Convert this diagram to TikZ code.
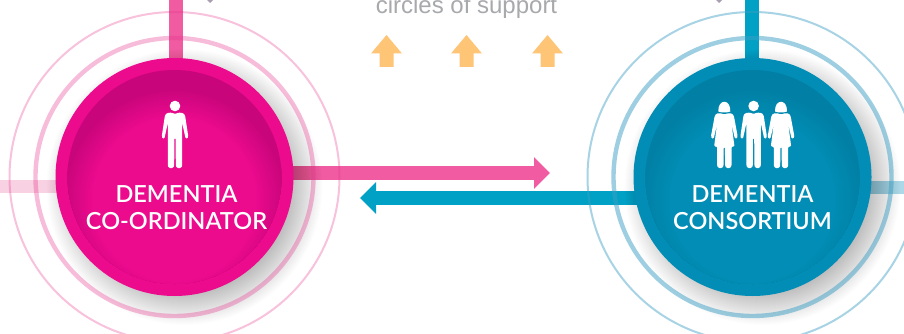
\documentclass[tikz,border=0pt]{standalone}
\usepackage{fontspec}
\usetikzlibrary{arrows.meta}
\newfontfamily\labelfont{Lato Semibold}
\setmainfont{Liberation Sans}
\definecolor{pinkbase}{HTML}{EC0A8D}
\definecolor{pinkdark}{HTML}{C8057B}
\definecolor{pinkbar}{HTML}{F05BA2}
\definecolor{pinkstub}{HTML}{F8D2E3}
\definecolor{bluebase}{HTML}{018DB5}
\definecolor{bluedark}{HTML}{017FA4}
\definecolor{bluebar}{HTML}{01A1C5}
\definecolor{bluestub}{HTML}{ACD8E7}
\definecolor{ringpink}{HTML}{E8348C}
\definecolor{ringblue}{HTML}{3C9FC4}
\definecolor{greytext}{HTML}{A7A9AC}
\definecolor{orangearrow}{HTML}{FEC577}
\definecolor{tickgrey}{HTML}{A89EB2}
\tikzset{
  outerdisc/.style={circle,minimum size=238pt,inner sep=0pt},
  innerdisc/.style={circle,minimum size=214pt,inner sep=0pt},
  thinpink/.style={line width=2pt,opacity=.3,ringpink},
  thickpink/.style={line width=4.4pt,opacity=.33,ringpink},
  thinblue/.style={line width=2pt,opacity=.45,ringblue},
  thickblue/.style={line width=4.4pt,opacity=.5,ringblue},
  bar/.style={line width=14pt},
  stub/.style={line width=13pt},
  rolelabel/.style={anchor=base,text=white,inner sep=0pt,font=\labelfont\fontsize{23.5}{27}\selectfont},
  flow/.style={line width=14pt,-{Triangle[length=16pt,width=31pt]}},
  uparrow/.style={fill=orangearrow},
  manfigure/.pic={
    \fill[white] (0,0) circle (5.3);
    \fill[white,rounded corners=1.1pt] (0,8) -- (-3.5,6.6) -- (-8,7) -- (-10,9) -- (-13.2,30) -- (-12.6,32.6) -- (-10.6,32.6) -- (-7.2,17) -- (-7.2,60) -- (-6,62) -- (-2,62) -- (-0.8,60) -- (-0.6,32) -- (0.6,32) -- (0.8,60) -- (2,62) -- (6,62) -- (7.2,60) -- (7.2,17) -- (10.6,32.6) -- (12.6,32.6) -- (13.2,30) -- (10,9) -- (8,7) -- (3.5,6.6) -- cycle;
  },
  womanfigure/.pic={
    \fill[white] (-6,5.5) .. controls (-6.5,-7.5) and (6.5,-7.5) .. (6,5.5) .. controls (3,6.8) and (-3,6.8) .. cycle;
    \fill[white,rounded corners=1.1pt] (0,8.6) -- (-3.5,7.2) -- (-8,7.6) -- (-9.6,10) -- (-13.3,30) -- (-12.6,32.6) -- (-10.6,32.6) -- (-7.2,18) -- (-10.2,40.5) -- (-7.2,40.5) -- (-7.2,60) -- (-6,62) -- (-2,62) -- (-0.8,60) -- (-0.6,41) -- (0.6,41) -- (0.8,60) -- (2,62) -- (6,62) -- (7.2,60) -- (7.2,40.5) -- (10.2,40.5) -- (7.2,18) -- (10.6,32.6) -- (12.6,32.6) -- (13.3,30) -- (9.6,10) -- (8,7.6) -- (3.5,7.2) -- cycle;
  }
}
\begin{document}
\begin{tikzpicture}[x=1pt,y=-1pt]
\useasboundingbox (0,0) rectangle (904,334);
\clip (0,0) rectangle (904,334);
\fill[white] (0,0) rectangle (904,334);
% anchors
\coordinate (ca) at (174.5,177);
\coordinate (cb) at (752.5,177);
\coordinate (catop) at (176,0);
\coordinate (cbtop) at (751.5,0);
\coordinate (castub) at (0,186.5);
\coordinate (cbstub) at (904,187);
\coordinate (pinktip) at (550,173);
\coordinate (bluetip) at (360,198);
% bars behind the discs
\draw[bar,pinkbar] (catop) -- (catop |- ca);
\draw[bar,bluebar] (cbtop) -- (cbtop |- cb);
\draw[stub,pinkstub] (castub) -- (ca |- castub);
\draw[stub,bluestub] (cbstub) -- (cb |- cbstub);
\draw[flow,pinkbar] (ca |- pinktip) -- (pinktip);
\draw[flow,bluebar] (cb |- bluetip) -- (bluetip);
% shadows: stacked translucent discs
\foreach \r in {105,...,138} {
  \fill[black,opacity=.0095] (184.5,187) circle (\r);
  \fill[black,opacity=.0095] (762.5,187) circle (\r);
}
% rings
\draw[thinpink] (ca) circle (165);
\draw[thickpink] (ca) circle (139);
\draw[thinblue] (cb) circle (165);
\draw[thickblue] (cb) circle (139);
% discs
\node[outerdisc,fill=pinkbase] (coordinator) at (ca) {};
\node[innerdisc,fill=pinkdark] (coordinatorinner) at (ca) {};
\begin{scope}
\clip (ca) circle (107);
\foreach \r in {0,...,30} {
  \pgfmathsetmacro{\mixv}{\r*100/30}
  \fill[pinkbase!\mixv!pinkdark] (174.5,200) circle (112-\r);
}
\end{scope}
\node[outerdisc,fill=bluebase] (consortium) at (cb) {};
\node[innerdisc,fill=bluedark] (consortiuminner) at (cb) {};
\begin{scope}
\clip (cb) circle (107);
\foreach \r in {0,...,30} {
  \pgfmathsetmacro{\mixv}{\r*100/30}
  \fill[bluebase!\mixv!bluedark] (752.5,200) circle (112-\r);
}
\end{scope}
% figures
\pic at (175,106) {manfigure};
\pic at (724.3,106) {womanfigure};
\pic at (753.6,106) {manfigure};
\pic at (781,106) {womanfigure};
% labels
\node[rolelabel] (la) at (176.5,202) {DEMENTIA};
\node[rolelabel] (lb) at (176.5,229) {CO-ORDINATOR};
\node[rolelabel] (lc) at (752.5,202) {DEMENTIA};
\node[rolelabel] (ld) at (752.5,229) {CONSORTIUM};
\node[anchor=base,inner sep=0pt,text=greytext,font=\fontsize{24}{28}\selectfont] (support) at (466.5,14) {circles of support};
% orange arrows
\foreach \cx in {386.5,466.5,547.5}
  \fill[uparrow] (\cx,35) -- (\cx+15.5,53.5) -- (\cx+7,53.5) -- (\cx+7,67) -- (\cx-7,67) -- (\cx-7,53.5) -- (\cx-15.5,53.5) -- cycle;
% ticks at top edge
\fill[tickgrey] (207,0) -- (213,0) -- (210,3) -- cycle;
\fill[tickgrey] (716,0) -- (722,0) -- (719,3) -- cycle;
\end{tikzpicture}
\end{document}
